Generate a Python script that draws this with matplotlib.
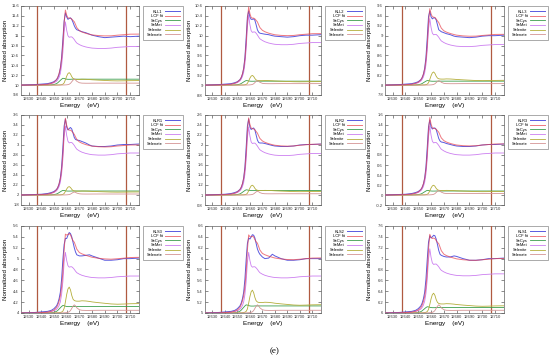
import matplotlib
matplotlib.use('Agg')
import matplotlib.pyplot as plt
import numpy as np
from matplotlib.ticker import MultipleLocator, FuncFormatter

plt.rcParams['font.family'] = ['Liberation Sans', 'DejaVu Sans']

# ---------------- data ----------------
energy = [12624, 12630, 12635, 12640, 12645, 12648, 12650, 12652, 12653, 12654,
          12655, 12656, 12657, 12658, 12659, 12660, 12661, 12662, 12663, 12664,
          12665, 12666, 12667, 12668, 12670, 12672, 12675, 12678, 12680, 12685,
          12690, 12695, 12700, 12705, 12710, 12717]

# normalized reference spectra (edge step = 1)
ref_secys = [0, 0, 0.003, 0.008, 0.02, 0.05, 0.10, 0.25, 0.40, 0.60,
             0.80, 1.00, 1.15, 1.12, 1.05, 1.00, 0.98, 0.98, 0.98, 1.00,
             1.00, 1.00, 1.00, 1.00, 1.00, 1.00, 1.00, 1.00, 1.00, 1.00,
             1.00, 1.00, 1.00, 1.00, 1.00, 1.00]
ref_semet = [0, 0.003, 0.006, 0.01, 0.02, 0.04, 0.06, 0.10, 0.14, 0.20,
             0.30, 0.50, 0.85, 1.38, 1.64, 1.42, 1.28, 1.24, 1.25, 1.25,
             1.22, 1.18, 1.13, 1.09, 1.05, 1.02, 0.99, 0.97, 0.96, 0.95,
             0.95, 0.96, 0.98, 0.99, 1.00, 1.00]
ref_selenite = [0, 0, 0, 0, 0, 0.005, 0.01, 0.02, 0.03, 0.04,
                0.06, 0.10, 0.20, 0.50, 1.20, 2.00, 2.60, 2.80, 2.50, 1.90,
                1.50, 1.35, 1.30, 1.28, 1.28, 1.32, 1.30, 1.25, 1.20, 1.12,
                1.05, 0.98, 0.95, 0.97, 1.00, 1.02]
ref_selenate = [0, 0, 0, 0, 0, 0, 0.005, 0.01, 0.015, 0.02,
                0.03, 0.04, 0.05, 0.07, 0.10, 0.15, 0.25, 0.45, 0.90, 1.70,
                2.50, 3.00, 2.60, 1.90, 1.20, 1.00, 0.95, 0.95, 0.97, 1.00,
                1.00, 1.00, 1.00, 1.00, 1.00, 1.00]

sample_names = ['KLL1', 'KLL2', 'KLL3', 'KLR1', 'KLR2', 'KLR3', 'KLS3', 'KLS2', 'KLS1']
baselines = [10, 9, 8, 2, 1, 0, 4, 5, 6]
y_bottoms = [9.8, 8.8, 7.8, 1.8, 0.8, -0.2, 4.0, 5.0, 6.0]
y_tops = [11.6, 10.6, 9.6, 3.6, 2.6, 1.6, 5.6, 6.6, 7.6]

# LCF weights: SeCys, SeMet, Selenite, Selenate
weights = [
    [0.12, 0.78, 0.09, 0.04],
    [0.08, 0.86, 0.07, 0.03],
    [0.08, 0.82, 0.095, 0.03],
    [0.08, 0.84, 0.06, 0.02],
    [0.09, 0.83, 0.07, 0.025],
    [0.08, 0.84, 0.07, 0.03],
    [0.12, 0.68, 0.17, 0.05],
    [0.13, 0.68, 0.15, 0.05],
    [0.10, 0.72, 0.13, 0.05],
]

# measured spectra, relative to baseline
spec_KLL1 = [0.00, 0.005, 0.01, 0.02, 0.03, 0.05, 0.07, 0.11, 0.15, 0.22, 0.34, 0.56, 0.92, 1.30, 1.46, 1.38, 1.33, 1.35,
             1.36, 1.33, 1.27, 1.20, 1.15, 1.12, 1.10, 1.08, 1.06, 1.03, 1.01, 0.98, 0.96, 0.97, 0.98, 0.99, 0.98, 0.99]
spec_KLL2 = [0.00, 0.005, 0.01, 0.02, 0.03, 0.05, 0.07, 0.11, 0.15, 0.22, 0.34, 0.56, 0.95, 1.38, 1.50, 1.38, 1.33, 1.33,
             1.34, 1.31, 1.22, 1.12, 1.07, 1.05, 1.04, 1.03, 1.02, 1.00, 0.99, 0.98, 0.97, 0.98, 1.00, 1.01, 1.01, 1.02]
spec_KLL3 = [0.00, 0.005, 0.01, 0.02, 0.03, 0.05, 0.07, 0.11, 0.15, 0.22, 0.34, 0.56, 0.95, 1.38, 1.50, 1.38, 1.34, 1.36,
             1.36, 1.32, 1.22, 1.12, 1.10, 1.08, 1.06, 1.04, 1.02, 0.99, 0.98, 0.97, 0.96, 0.97, 0.99, 1.00, 1.00, 1.01]
spec_KLR1 = [0.00, 0.005, 0.01, 0.015, 0.03, 0.05, 0.07, 0.11, 0.15, 0.22, 0.34, 0.56, 0.95, 1.38, 1.52, 1.36, 1.30, 1.33,
             1.35, 1.32, 1.24, 1.15, 1.11, 1.10, 1.09, 1.07, 1.04, 1.00, 0.98, 0.97, 0.97, 0.98, 1.00, 1.01, 1.01, 1.02]
spec_KLR2 = [0.00, 0.005, 0.01, 0.015, 0.03, 0.05, 0.07, 0.11, 0.15, 0.22, 0.34, 0.56, 0.95, 1.38, 1.52, 1.36, 1.31, 1.33,
             1.34, 1.30, 1.20, 1.10, 1.05, 1.04, 1.04, 1.03, 1.01, 0.99, 0.98, 0.97, 0.97, 0.98, 1.00, 1.01, 1.01, 1.02]
spec_KLR3 = [0.00, 0.005, 0.01, 0.015, 0.03, 0.05, 0.07, 0.11, 0.15, 0.22, 0.34, 0.56, 0.95, 1.36, 1.50, 1.36, 1.32, 1.34,
             1.34, 1.31, 1.22, 1.13, 1.08, 1.06, 1.05, 1.03, 1.01, 0.99, 0.98, 0.97, 0.97, 0.98, 1.00, 1.01, 1.01, 1.02]
spec_KLS3 = [0.00, 0.005, 0.01, 0.02, 0.03, 0.05, 0.08, 0.13, 0.18, 0.26, 0.38, 0.62, 0.98, 1.26, 1.37, 1.37, 1.43, 1.48,
             1.46, 1.40, 1.30, 1.20, 1.12, 1.07, 1.05, 1.05, 1.06, 1.07, 1.05, 1.01, 0.97, 0.97, 0.98, 1.00, 1.00, 1.01]
spec_KLS2 = [0.00, 0.005, 0.01, 0.02, 0.03, 0.05, 0.08, 0.13, 0.18, 0.26, 0.38, 0.62, 0.98, 1.28, 1.38, 1.36, 1.40, 1.44,
             1.43, 1.38, 1.28, 1.18, 1.12, 1.08, 1.03, 1.00, 1.01, 1.08, 1.05, 1.00, 0.97, 0.97, 0.98, 1.00, 1.00, 1.00]
spec_KLS1 = [0.00, 0.005, 0.01, 0.02, 0.03, 0.05, 0.08, 0.13, 0.18, 0.26, 0.38, 0.62, 0.98, 1.30, 1.42, 1.38, 1.40, 1.43,
             1.42, 1.36, 1.26, 1.15, 1.08, 1.06, 1.04, 1.03, 1.03, 1.05, 1.04, 1.00, 0.97, 0.97, 0.98, 1.00, 1.00, 1.01]
spectra = [spec_KLL1, spec_KLL2, spec_KLL3, spec_KLR1, spec_KLR2, spec_KLR3, spec_KLS3, spec_KLS2, spec_KLS1]

fit_range = [12637, 12707]
x_ticks = [12630, 12640, 12650, 12660, 12670, 12680, 12690, 12700, 12710]
x_range = [12624, 12717]

# ---------------- style ----------------
c_sample = '#5a5ae0'
c_fit = '#e8404a'
c_secys = '#3c9e4c'
c_semet = '#cc7ef0'
c_selenite = '#b4ae3a'
c_selenate = '#d49494'
c_vline = '#b05a40'
c_frame = '#606060'

W, H = 550, 362
fig = plt.figure(figsize=(W / 100, H / 100), dpi=100)

cols = [(21, 139), (205, 321), (385, 504)]
rows = [(6, 95), (115, 205), (226, 313)]

E = np.array(energy)
refs = [np.array(ref_secys), np.array(ref_semet), np.array(ref_selenite), np.array(ref_selenate)]
ref_colors = [c_secys, c_semet, c_selenite, c_selenate]
ref_labels = ['SeCys', 'SeMet', 'Selenite', 'Selenate']

fmt = FuncFormatter(lambda v, p: ('%g' % round(v, 2)))

for i in range(9):
    r, c = divmod(i, 3)
    l, rr = cols[c]
    t, b = rows[r]
    ax = fig.add_axes([l / W, 1 - b / H, (rr - l) / W, (b - t) / H])
    base = baselines[i]
    comps = [base + w * ref for w, ref in zip(weights[i], refs)]
    fit = base + sum(w * ref for w, ref in zip(weights[i], refs))
    samp = base + np.array(spectra[i])

    h_s, = ax.plot(E, samp, color=c_sample, lw=0.7, label=sample_names[i], zorder=5)
    h_f, = ax.plot(E, fit, color=c_fit, lw=0.7, alpha=0.7, label='LCF fit', zorder=6)
    hs = [h_s, h_f]
    for comp, col, lab in zip(comps, ref_colors, ref_labels):
        h, = ax.plot(E, comp, color=col, lw=0.6, label=lab, zorder=4)
        hs.append(h)
    for xv in fit_range:
        ax.axvline(xv, color=c_vline, lw=0.9, zorder=3)

    ax.set_xlim(*x_range)
    ax.set_ylim(y_bottoms[i], y_tops[i])
    ax.set_xticks(x_ticks)
    ax.yaxis.set_major_locator(MultipleLocator(0.2))
    ax.yaxis.set_major_formatter(fmt)
    ax.tick_params(direction='in', top=True, right=True, length=2, width=0.4,
                   labelsize=3.0, pad=1.5, colors='#333333')
    for sp in ax.spines.values():
        sp.set_color(c_frame)
        sp.set_linewidth(0.5)
    ax.set_xlabel('Energy    (eV)', fontsize=4.6, labelpad=1.5)
    fig.text((l - 15) / W, 1 - ((t + b) / 2) / H, 'Normalized absorption',
             rotation=90, ha='center', va='center', fontsize=4.4)

    leg = ax.legend(handles=hs, loc='upper left',
                    bbox_to_anchor=((rr + 4) / W, 1 - t / H), bbox_transform=fig.transFigure,
                    fontsize=2.9, markerfirst=False, frameon=True, fancybox=False,
                    edgecolor='#888888', framealpha=1, handlelength=3.8,
                    handletextpad=0.5, labelspacing=0.15, borderpad=0.9,
                    borderaxespad=0)
    leg.get_frame().set_linewidth(0.5)

fig.text(275 / W, 1 - 351 / H, '(e)', ha='center', va='center', fontsize=6.5,
         family=['Liberation Serif', 'DejaVu Serif'])

fig.savefig('out.png', dpi=100)
